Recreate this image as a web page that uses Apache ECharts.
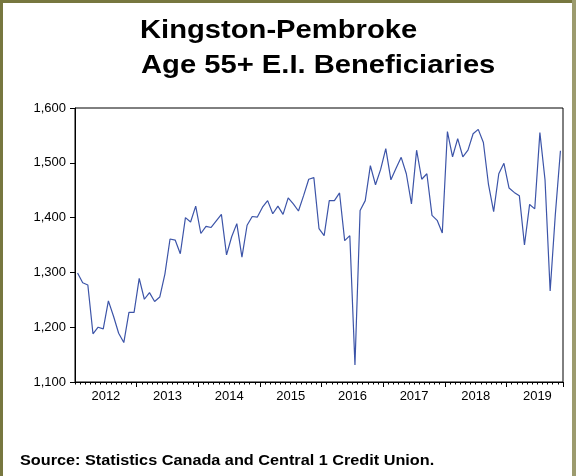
<!DOCTYPE html>
<html>
<head>
<meta charset="utf-8">
<script src="https://cdn.jsdelivr.net/npm/echarts@6/dist/echarts.min.js"></script>
<style>
  html, body { margin: 0; padding: 0; background: #fff; }
  #chart { width: 576px; height: 476px; }
</style>
</head>
<body>
<div id="chart"></div>
<script>
// Monthly data, Jan 2012 – Nov 2019
const years = ['2012', '2013', '2014', '2015', '2016', '2017', '2018', '2019'];
const v2012 = [1299, 1281, 1277, 1188, 1200, 1197, 1248, 1220, 1189, 1172, 1227, 1227];
const v2013 = [1289, 1251, 1263, 1247, 1255, 1297, 1361, 1359, 1334, 1400, 1392, 1421];
const v2014 = [1371, 1384, 1382, 1394, 1406, 1332, 1365, 1389, 1328, 1386, 1402, 1401];
const v2015 = [1419, 1431, 1407, 1421, 1406, 1436, 1425, 1412, 1440, 1470, 1473, 1380];
const v2016 = [1367, 1431, 1431, 1445, 1358, 1367, 1131, 1413, 1431, 1495, 1460, 1488];
const v2017 = [1526, 1469, 1490, 1510, 1480, 1425, 1523, 1470, 1480, 1404, 1395, 1372];
const v2018 = [1557, 1511, 1544, 1511, 1523, 1553, 1561, 1537, 1460, 1411, 1480, 1499];
const v2019 = [1454, 1446, 1440, 1350, 1424, 1416, 1555, 1469, 1266, 1405, 1522];
const yTicks = [1100, 1200, 1300, 1400, 1500, 1600];

const titleLine1 = 'Kingston-Pembroke';
const titleLine2 = 'Age 55+ E.I. Beneficiaries';
const sourceText = 'Source: Statistics Canada and Central 1 Credit Union.';

const yearly = [v2012, v2013, v2014, v2015, v2016, v2017, v2018, v2019];
const values = [];
const months = [];
yearly.forEach((arr, yi) => {
  arr.forEach((v, mi) => {
    values.push(v);
    months.push(years[yi] + '-' + String(mi + 1).padStart(2, '0'));
  });
});

const chart = echarts.init(document.getElementById('chart'), null, { renderer: 'canvas' });
const FONT = '"Liberation Sans", Arial, sans-serif';

chart.setOption({
  backgroundColor: '#ffffff',
  animation: false,
  grid: {
    left: 75, top: 108, width: 488, height: 274,
    show: true, borderColor: '#000', borderWidth: 1, backgroundColor: 'transparent'
  },
  xAxis: [
    {
      type: 'category', data: months, boundaryGap: true,
      axisLine: { show: true, lineStyle: { color: '#000', width: 1 } },
      axisTick: {
        show: true, length: 5, lineStyle: { color: '#000' },
        interval: function (i) { return i % 12 === 0 && i > 0; }
      },
      axisLabel: {
        show: true, color: '#000', fontFamily: FONT, fontSize: 13, margin: 8,
        padding: [0, 5, 0, 0],
        interval: function (i) { return i % 12 === 6; },
        formatter: function (v) { return v.slice(0, 4); }
      },
      splitLine: { show: false }
    },
    {
      type: 'category', data: months, boundaryGap: true, position: 'bottom',
      axisLine: { show: false },
      axisTick: { show: true, length: 2.5, interval: 0, lineStyle: { color: '#000' } },
      axisLabel: { show: false },
      splitLine: { show: false }
    }
  ],
  yAxis: {
    type: 'value', min: yTicks[0], max: yTicks[yTicks.length - 1], interval: 100,
    axisLine: { show: true, lineStyle: { color: '#000', width: 1 } },
    axisTick: { show: true, length: 5, lineStyle: { color: '#000' } },
    axisLabel: {
      color: '#000', fontFamily: FONT, fontSize: 13, margin: 9,
      formatter: function (v) { return v.toLocaleString('en-US'); }
    },
    splitLine: { show: false }
  },
  series: [{
    type: 'line', data: values, xAxisIndex: 0, symbol: 'none',
    lineStyle: { color: '#3c54a8', width: 1.2 }
  }],
  graphic: [
    { type: 'rect', shape: { x: 0, y: 0, width: 3, height: 476 }, style: { fill: '#77773f' }, silent: true },
    { type: 'rect', shape: { x: 0, y: 0, width: 576, height: 3 }, style: { fill: '#77773f' }, silent: true },
    { type: 'rect', shape: { x: 572, y: 0, width: 4, height: 476 }, style: { fill: '#9c9b6e' }, silent: true },
    {
      type: 'text', x: 140, y: 31, scaleX: 1.167,
      style: { text: titleLine1, x: 0, y: 0, fill: '#000', font: 'bold 25px ' + FONT, textAlign: 'left', textVerticalAlign: 'middle' }
    },
    {
      type: 'text', x: 141, y: 66, scaleX: 1.167,
      style: { text: titleLine2, x: 0, y: 0, fill: '#000', font: 'bold 25px ' + FONT, textAlign: 'left', textVerticalAlign: 'middle' }
    },
    {
      type: 'text', x: 20, y: 461, scaleX: 1.16,
      style: { text: sourceText, x: 0, y: 0, fill: '#000', font: 'bold 14px ' + FONT, textAlign: 'left', textVerticalAlign: 'middle' }
    }
  ]
});
</script>
</body>
</html>
